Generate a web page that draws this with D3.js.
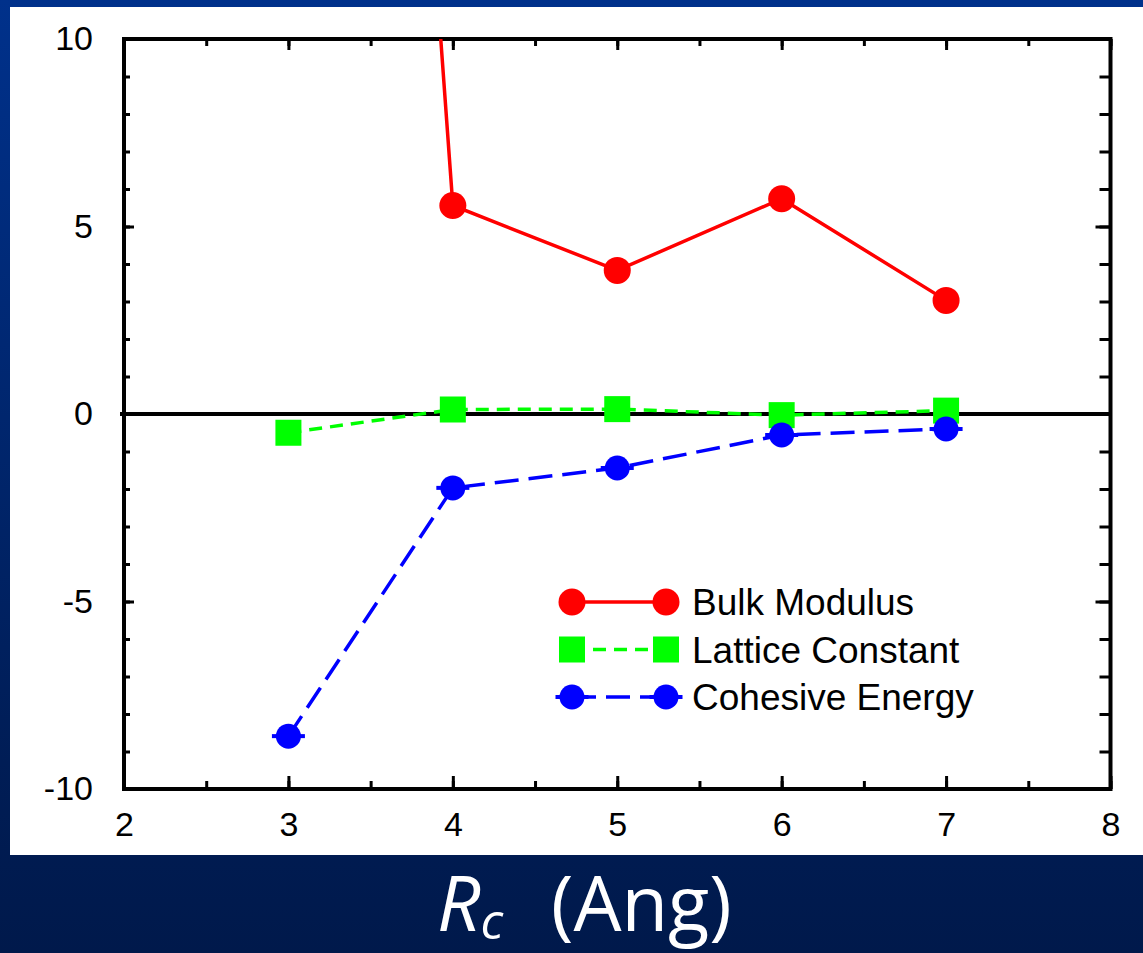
<!DOCTYPE html>
<html>
<head>
<meta charset="utf-8">
<script src="https://cdn.jsdelivr.net/npm/d3@7"></script>
<style>
  body { margin: 0; overflow: hidden; background: #001a4d; }
</style>
</head>
<body>
<div id="chart"></div>
<script>
// --- data ---
const rc = [3, 4, 5, 6, 7];
const bulkModulus = [66, 5.56, 3.83, 5.74, 3.03];
const latticeConstant = [-0.5, 0.12, 0.13, -0.03, 0.09];
const cohesiveEnergy = [-8.59, -1.97, -1.44, -0.56, -0.4];
const seriesNames = ["Bulk Modulus", "Lattice Constant", "Cohesive Energy"];
const xTicks = [2, 3, 4, 5, 6, 7, 8];
const yTicks = [-10, -5, 0, 5, 10];

const width = 1143;
const height = 953;

const svg = d3
  .select("#chart")
  .append("svg")
  .attr("width", width)
  .attr("height", height);

// background gradient + white panel
const defs = svg.append("defs");
const grad = defs
  .append("linearGradient")
  .attr("id", "bg")
  .attr("x1", 0).attr("y1", 0).attr("x2", 0).attr("y2", 1);
grad.append("stop").attr("offset", "0%").attr("stop-color", "#00318b");
grad.append("stop").attr("offset", "80%").attr("stop-color", "#001d56");
grad.append("stop").attr("offset", "100%").attr("stop-color", "#00194b");

svg.append("rect").attr("width", width).attr("height", height).attr("fill", "url(#bg)");
svg.append("rect").attr("x", 10).attr("y", 7).attr("width", 1133).attr("height", 848).attr("fill", "#fff");

const x = d3.scaleLinear().domain([2, 8]).range([124, 1110.5]);
const y = d3.scaleLinear().domain([-10, 10]).range([789, 39]);

defs
  .append("clipPath")
  .attr("id", "plot-clip")
  .append("rect")
  .attr("x", x(2))
  .attr("y", y(10))
  .attr("width", x(8) - x(2))
  .attr("height", y(-10) - y(10));

const tickFont = "'Liberation Sans', Arial, sans-serif";
const plain = (d) => String(d); // hyphen minus, no decimals

// --- axes (ticks point inward) ---
function styleAxis(g) {
  g.select(".domain").remove();
  g.selectAll("line").attr("stroke", "#000").attr("stroke-width", 3);
  g.selectAll("text").attr("font-family", tickFont).attr("font-size", 34).attr("fill", "#000");
}

const yMinor = d3.range(-10, 11, 1);
const xMinor = d3.range(2, 8.01, 0.5);

svg.append("g")
  .attr("transform", `translate(${x(2)},0)`)
  .call(d3.axisLeft(y).tickValues(yMinor).tickSize(-6).tickFormat(""))
  .call(styleAxis);
svg.append("g")
  .attr("transform", `translate(${x(2)},0)`)
  .call(d3.axisLeft(y).tickValues(yTicks).tickSize(-10).tickPadding(31).tickFormat(plain))
  .call(styleAxis);

svg.append("g")
  .attr("transform", `translate(${x(8)},0)`)
  .call(d3.axisRight(y).tickValues(yMinor).tickSize(-11).tickFormat(""))
  .call(styleAxis);
svg.append("g")
  .attr("transform", `translate(${x(8)},0)`)
  .call(d3.axisRight(y).tickValues(yTicks).tickSize(-15).tickFormat(""))
  .call(styleAxis);

svg.append("g")
  .attr("transform", `translate(0,${y(-10)})`)
  .call(d3.axisBottom(x).tickValues(xMinor).tickSize(-8).tickFormat(""))
  .call(styleAxis);
svg.append("g")
  .attr("transform", `translate(0,${y(-10)})`)
  .call(d3.axisBottom(x).tickValues(xTicks).tickSize(-13).tickPadding(23).tickFormat(plain))
  .call(styleAxis);

svg.append("g")
  .attr("transform", `translate(0,${y(10)})`)
  .call(d3.axisTop(x).tickValues(xMinor).tickSize(-7).tickFormat(""))
  .call(styleAxis);
svg.append("g")
  .attr("transform", `translate(0,${y(10)})`)
  .call(d3.axisTop(x).tickValues(xTicks).tickSize(-11).tickFormat(""))
  .call(styleAxis);

// frame
svg.append("rect")
  .attr("x", x(2)).attr("y", y(10))
  .attr("width", x(8) - x(2)).attr("height", y(-10) - y(10))
  .attr("fill", "none").attr("stroke", "#000").attr("stroke-width", 4);

// zero line
svg.append("line")
  .attr("x1", x(2) - 4).attr("x2", x(8))
  .attr("y1", y(0)).attr("y2", y(0))
  .attr("stroke", "#000").attr("stroke-width", 4);

// --- series ---
const series = [
  { name: seriesNames[0], values: bulkModulus, color: "#ff0000", dash: null, marker: "circle" },
  { name: seriesNames[1], values: latticeConstant, color: "#00ff00", dash: "13,8", marker: "square" },
  { name: seriesNames[2], values: cohesiveEnergy, color: "#0000ff", dash: "24,10", marker: "dot" },
];

const line = d3.line().x((d) => x(d[0])).y((d) => y(d[1]));

function drawMarker(g, type, color) {
  if (type === "circle") {
    g.append("circle").attr("r", 13.5).attr("fill", color);
  } else if (type === "square") {
    g.append("rect").attr("x", -13).attr("y", -13).attr("width", 26).attr("height", 26).attr("fill", color);
  } else {
    g.append("circle").attr("r", 12.5).attr("fill", color);
    g.append("rect").attr("x", -16.5).attr("y", -2).attr("width", 33).attr("height", 4).attr("fill", color);
  }
}

const plot = svg.append("g").attr("clip-path", "url(#plot-clip)");

series.forEach((s) => {
  const pts = rc.map((r, i) => [r, s.values[i]]);
  plot.append("path")
    .datum(pts)
    .attr("d", line)
    .attr("fill", "none")
    .attr("stroke", s.color)
    .attr("stroke-width", 3.5)
    .attr("stroke-dasharray", s.dash);
});

series.forEach((s) => {
  const pts = rc.map((r, i) => [r, s.values[i]]);
  plot.selectAll(null)
    .data(pts)
    .enter()
    .append("g")
    .attr("transform", (d) => `translate(${x(d[0])},${y(d[1])})`)
    .each(function () {
      drawMarker(d3.select(this), s.marker, s.color);
    });
});

// --- legend ---
const legend = svg.append("g").attr("transform", "translate(572,602)");
series.forEach((s, i) => {
  const row = legend.append("g").attr("transform", `translate(0,${i * 47.5})`);
  row.append("line")
    .attr("x1", 0).attr("x2", 94)
    .attr("stroke", s.color).attr("stroke-width", 3.5)
    .attr("stroke-dasharray", s.dash);
  drawMarker(row.append("g"), s.marker, s.color);
  drawMarker(row.append("g").attr("transform", "translate(94,0)"), s.marker, s.color);
  row.append("text")
    .attr("x", 120)
    .attr("dy", "0.36em")
    .attr("font-family", tickFont)
    .attr("font-size", 37)
    .text(s.name);
});

// --- axis title in the bottom band ---
const title = svg.append("text")
  .attr("x", 437)
  .attr("y", 931)
  .attr("fill", "#fff")
  .attr("font-family", "'Open Sans', 'DejaVu Sans', sans-serif")
  .attr("font-size", 76);
title.append("tspan").attr("font-style", "italic").text("R");
title.append("tspan").attr("font-style", "italic").attr("font-size", 50).attr("dy", 8).text("c");
title.append("tspan").attr("x", 551).attr("dy", -8).text("(Ang)");
</script>
</body>
</html>
